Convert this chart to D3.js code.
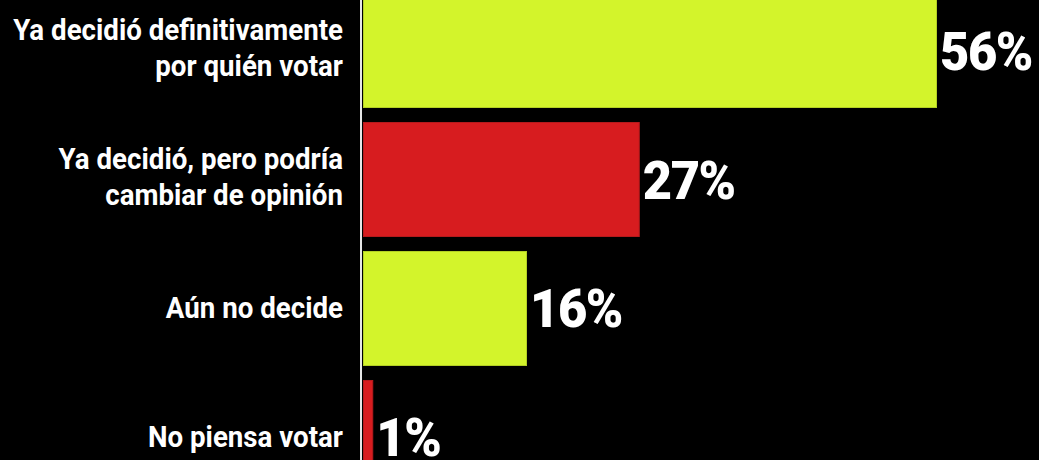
<!DOCTYPE html>
<html>
<head>
<meta charset="utf-8">
<script src="https://cdn.jsdelivr.net/npm/d3@7"></script>
<style>
  html, body { margin: 0; padding: 0; background: #000; }
  svg { display: block; }
</style>
</head>
<body>
<div id="chart"></div>
<script>
const WIDTH = 1039;
const HEIGHT = 460;
const AXIS_X = 363;
const LABEL_RIGHT = 343;
const LABEL_FONT = 29.5;
const LABEL_LINE = 37;
const VALUE_FONT = 53;
const LABEL_WIDTH = 330; // width of the longest label line
const VALUE_WIDTH = 92;  // width of "56%"

const categories = [
  "Ya decidió definitivamente por quién votar",
  "Ya decidió, pero podría cambiar de opinión",
  "Aún no decide",
  "No piensa votar"
];
const labelLines = [
  ["Ya decidió definitivamente", "por quién votar"],
  ["Ya decidió, pero podría", "cambiar de opinión"],
  ["Aún no decide"],
  ["No piensa votar"]
];
const values = [56, 27, 16, 1];
const barColors = ["#d3f42b", "#d71c1f", "#d3f42b", "#d71c1f"];
const barEdges = ["#b3cf25", "#b51a1c", "#b3cf25", "#b51a1c"];

const data = categories.map((c, i) => ({
  cat: c,
  lines: labelLines[i],
  value: values[i],
  color: barColors[i],
  edge: barEdges[i]
}));

const x = d3.scaleLinear().domain([0, 56]).range([AXIS_X, 937]);
const y = d3.scaleBand().domain(categories).range([-7, 495]).paddingInner(0.1085);

const svg = d3.select("#chart")
  .append("svg")
  .attr("width", WIDTH)
  .attr("height", HEIGHT)
  .style("background", "#000");

svg.selectAll(".bar")
  .data(data)
  .join("rect")
  .attr("class", "bar")
  .attr("x", x(0) + 0.5)
  .attr("y", d => y(d.cat) + 0.5)
  .attr("width", d => x(d.value) - x(0) - 1)
  .attr("height", y.bandwidth() - 1)
  .attr("fill", d => d.color)
  .attr("stroke", d => d.edge)
  .attr("stroke-width", 1);

// vertical axis line, no ticks
svg.append("line")
  .attr("x1", AXIS_X - 2)
  .attr("x2", AXIS_X - 2)
  .attr("y1", 0)
  .attr("y2", HEIGHT)
  .attr("stroke", "#e6e6e6")
  .attr("stroke-width", 2);

// category labels
const labels = svg.selectAll(".label")
  .data(data)
  .join("text")
  .attr("class", "label")
  .attr("text-anchor", "end")
  .attr("fill", "#fff")
  .attr("font-family", "Roboto, 'Liberation Sans', sans-serif")
  .attr("font-weight", 700)
  .attr("font-size", LABEL_FONT);

labels.selectAll("tspan")
  .data(d => d.lines)
  .join("tspan")
  .attr("x", 0)
  .attr("y", (d, i) => i * LABEL_LINE)
  .text(d => d);

const firstLine = labels.filter((d, i) => i === 0).select("tspan").node();
const kLabel = LABEL_WIDTH / firstLine.getComputedTextLength();

labels.attr("transform", d => {
  const mid = y(d.cat) + y.bandwidth() / 2;
  const base = d.lines.length > 1 ? mid - 11 : mid + 10;
  return `translate(${LABEL_RIGHT},${base}) scale(${kLabel},1)`;
});

// value labels
const valueText = svg.selectAll(".value")
  .data(data)
  .join("text")
  .attr("class", "value")
  .attr("fill", "#fff")
  .attr("font-family", "Roboto, 'Liberation Sans', sans-serif")
  .attr("font-weight", 900)
  .attr("font-size", VALUE_FONT)
  .attr("letter-spacing", -1.5)
  .text(d => d.value + "%");

const kValue = VALUE_WIDTH / valueText.node().getComputedTextLength();

valueText.attr("transform", d =>
  `translate(${x(d.value) + 3},${y(d.cat) + y.bandwidth() / 2 + 19}) scale(${kValue},1)`);
</script>
</body>
</html>
